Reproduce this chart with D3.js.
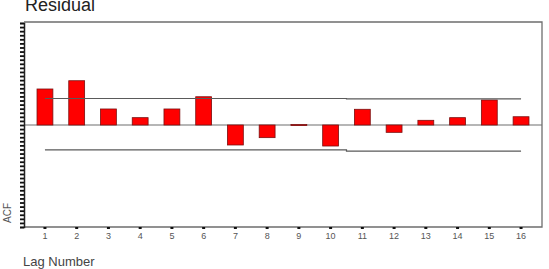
<!DOCTYPE html>
<html>
<head>
<meta charset="utf-8">
<script src="https://cdn.jsdelivr.net/npm/d3@7"></script>
<style>
  body { margin: 0; background: #fff; }
  svg { display: block; font-family: Arial, 'Liberation Sans', sans-serif; }
</style>
</head>
<body>
<div id="chart"></div>
<script>
// ACF of residuals, lags 1..16
const lags = [1, 2, 3, 4, 5, 6, 7, 8, 9, 10, 11, 12, 13, 14, 15, 16]
const acf = [0.353, 0.434, 0.157, 0.072, 0.157, 0.277, -0.196, -0.124, 0.004, -0.206,
             0.154, -0.072, 0.046, 0.072, 0.245, 0.081]
const upperLimit = [0.26, 0.26, 0.26, 0.26, 0.26, 0.26, 0.26, 0.26, 0.26, 0.26,
                    0.256, 0.256, 0.256, 0.256, 0.256, 0.256]
const lowerLimit = [-0.243, -0.243, -0.243, -0.243, -0.243, -0.243, -0.243, -0.243, -0.243, -0.243,
                    -0.256, -0.256, -0.256, -0.256, -0.256, -0.256]
const yTicks = d3.range(-1, 1.0001, 0.04)

const W = 549, H = 269
const plotLeft = 24, plotRight = 542, plotTop = 22, plotBottom = 227

const svg = d3.select('#chart').append('svg')
  .attr('width', W)
  .attr('height', H)

const x = d3.scaleBand()
  .domain(lags)
  .range([plotLeft, plotRight])
  .paddingInner(0.5)
  .paddingOuter(0.41)

const y = d3.scaleLinear()
  .domain([-1, 1])
  .range([plotBottom, plotTop + 1])

// frame (top + right + bottom)
svg.append('path')
  .attr('d', `M${plotLeft},${plotTop}H${plotRight}V${plotBottom}H${plotLeft}`)
  .attr('fill', 'none')
  .attr('stroke', '#6e6e6e')
  .attr('stroke-width', 1.3)

// zero line
svg.append('line')
  .attr('x1', plotLeft).attr('x2', plotRight)
  .attr('y1', y(0)).attr('y2', y(0))
  .attr('stroke', '#6e6e6e')
  .attr('stroke-width', 1.2)

// bars
svg.append('g')
  .selectAll('rect')
  .data(lags)
  .enter()
  .append('rect')
    .attr('x', d => x(d))
    .attr('width', x.bandwidth())
    .attr('y', (d, i) => Math.min(y(acf[i]), y(0)))
    .attr('height', (d, i) => Math.max(Math.abs(y(acf[i]) - y(0)), 1))
    .attr('fill', '#ff0000')
    .attr('stroke', '#7a1010')
    .attr('stroke-width', 0.8)

// confidence limits
const limitLine = d3.line()
  .x((d, i) => x(lags[i]) + x.bandwidth() / 2)
  .y(d => y(d))
  .curve(d3.curveStep)

svg.append('path')
  .attr('d', limitLine(upperLimit))
  .attr('fill', 'none')
  .attr('stroke', '#5a5a5a')
  .attr('stroke-width', 1.2)

svg.append('path')
  .attr('d', limitLine(lowerLimit))
  .attr('fill', 'none')
  .attr('stroke', '#5a5a5a')
  .attr('stroke-width', 1.2)

// y axis (dense ticks, no labels)
svg.append('g')
  .attr('transform', `translate(${plotLeft},0)`)
  .call(d3.axisLeft(y).tickValues(yTicks).tickSize(4).tickFormat(''))
  .call(g => g.select('.domain').attr('stroke', '#222').attr('stroke-width', 1.5))
  .call(g => g.selectAll('.tick line').attr('stroke', '#111').attr('stroke-width', 1.8))

// x axis
svg.append('g')
  .attr('transform', `translate(0,${plotBottom})`)
  .call(d3.axisBottom(x).tickSize(2).tickPadding(4))
  .call(g => g.select('.domain').remove())
  .call(g => g.selectAll('.tick line').attr('stroke', '#111').attr('stroke-width', 3))
  .call(g => g.selectAll('.tick text')
    .attr('fill', '#555')
    .style('font-size', '9px')
    .style('font-family', 'Arial, Liberation Sans, sans-serif'))

// title (partly clipped at the top edge, as in the original)
svg.append('text')
  .attr('x', 25)
  .attr('y', 11)
  .style('font-size', '18px')
  .style('fill', '#222')
  .text('Residual')

// y label
svg.append('text')
  .attr('transform', 'translate(11,223) rotate(-90)')
  .attr('text-anchor', 'start')
  .style('font-size', '10px')
  .style('fill', '#555')
  .text('ACF')

// x label
svg.append('text')
  .attr('x', 23)
  .attr('y', 266)
  .style('font-size', '13px')
  .style('fill', '#444')
  .text('Lag Number')
</script>
</body>
</html>
